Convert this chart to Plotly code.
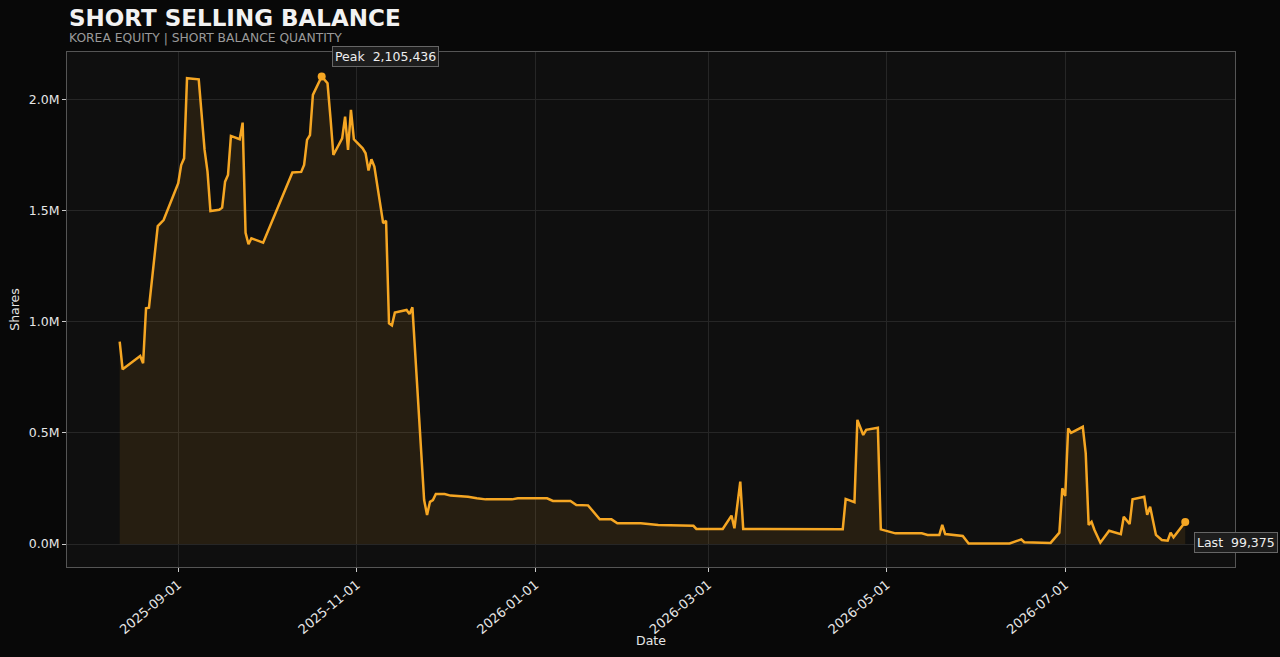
import plotly.graph_objects as go

# short balance (shares)
dates = [
    '2025-08-12', '2025-08-13', '2025-08-19', '2025-08-20', '2025-08-21', '2025-08-22',
    '2025-08-25', '2025-08-26', '2025-08-27', '2025-09-01', '2025-09-02', '2025-09-03',
    '2025-09-04', '2025-09-05', '2025-09-08', '2025-09-10', '2025-09-11', '2025-09-12',
    '2025-09-15', '2025-09-16', '2025-09-17', '2025-09-18', '2025-09-19', '2025-09-22',
    '2025-09-23', '2025-09-24', '2025-09-25', '2025-09-26', '2025-09-30', '2025-10-10',
    '2025-10-13', '2025-10-14', '2025-10-15', '2025-10-16', '2025-10-17', '2025-10-20',
    '2025-10-22', '2025-10-23', '2025-10-24', '2025-10-27', '2025-10-28', '2025-10-29',
    '2025-10-30', '2025-10-31', '2025-11-03', '2025-11-04', '2025-11-05', '2025-11-06',
    '2025-11-07', '2025-11-10', '2025-11-11', '2025-11-12', '2025-11-13', '2025-11-14',
    '2025-11-18', '2025-11-19', '2025-11-20', '2025-11-24', '2025-11-25', '2025-11-26',
    '2025-11-27', '2025-11-28', '2025-12-01', '2025-12-03', '2025-12-09', '2025-12-12',
    '2025-12-15', '2025-12-24', '2025-12-26', '2026-01-05', '2026-01-07', '2026-01-13',
    '2026-01-15', '2026-01-19', '2026-01-23', '2026-01-27', '2026-01-29', '2026-02-06',
    '2026-02-12', '2026-02-24', '2026-02-25', '2026-03-06', '2026-03-09', '2026-03-10',
    '2026-03-12', '2026-03-13', '2026-04-16', '2026-04-17', '2026-04-20', '2026-04-21',
    '2026-04-23', '2026-04-24', '2026-04-28', '2026-04-29', '2026-05-04', '2026-05-13',
    '2026-05-15', '2026-05-19', '2026-05-20', '2026-05-21', '2026-05-27', '2026-05-29',
    '2026-06-12', '2026-06-16', '2026-06-17', '2026-06-26', '2026-06-29', '2026-06-30',
    '2026-07-01', '2026-07-02', '2026-07-03', '2026-07-07', '2026-07-08', '2026-07-09',
    '2026-07-10', '2026-07-11', '2026-07-13', '2026-07-16', '2026-07-20', '2026-07-21',
    '2026-07-23', '2026-07-24', '2026-07-28', '2026-07-29', '2026-07-30', '2026-08-01',
    '2026-08-03', '2026-08-05', '2026-08-06', '2026-08-07', '2026-08-11',
]
balance = [
    911000, 787000, 847000, 814000, 1062000, 1064000,
    1432000, 1445000, 1459000, 1625000, 1707000, 1737000,
    2098000, 2097000, 2093000, 1775000, 1677000, 1500000,
    1505000, 1515000, 1632000, 1662000, 1838000, 1823000,
    1898000, 1402000, 1350000, 1377000, 1357000, 1673000,
    1676000, 1707000, 1820000, 1842000, 2023000, 2105436,
    2075000, 1920000, 1752000, 1827000, 1925000, 1775000,
    1955000, 1823000, 1782000, 1760000, 1682000, 1733000,
    1700000, 1445000, 1456000, 994000, 985000, 1042000,
    1054000, 1036000, 1066000, 198000, 131000, 190000,
    198000, 225000, 225000, 218000, 213000, 206000,
    201000, 201000, 206000, 206000, 194000, 194000,
    176000, 174000, 111000, 111000, 93000, 93000,
    86000, 82000, 68000, 68000, 128000, 71000,
    281000, 68000, 66000, 203000, 188000, 559000,
    491000, 514000, 524000, 66000, 48000, 48000,
    41000, 41000, 86000, 45000, 36000, 2000,
    2000, 21000, 8000, 5000, 51000, 251000,
    216000, 521000, 501000, 528000, 409000, 86000,
    100000, 63000, 6000, 60000, 44000, 123000,
    90000, 201000, 213000, 131000, 168000, 41000,
    18000, 15000, 51000, 30000, 99375,
]

y_ticks = [0, 500000, 1000000, 1500000, 2000000]
y_tick_labels = ['0.0M', '0.5M', '1.0M', '1.5M', '2.0M']
x_ticks = ['2025-09-01', '2025-11-01', '2026-01-01', '2026-03-01', '2026-05-01', '2026-07-01']

ORANGE = '#f5a623'
peak_i = balance.index(max(balance))

fig = go.Figure()
fig.add_trace(go.Scatter(x = dates, y = balance, mode = 'lines',
                         line = dict(color = ORANGE, width = 2.5),
                         fill = 'tozeroy', fillcolor = 'rgba(245,166,35,0.10)',
                         hoverinfo = 'skip'))
fig.add_trace(go.Scatter(x = [dates[peak_i], dates[-1]], y = [balance[peak_i], balance[-1]],
                         mode = 'markers', marker = dict(color = ORANGE, size = 8)))

label_style = dict(showarrow = False, xanchor = 'left', bgcolor = '#1d1d1d',
                   bordercolor = '#666666', borderwidth = 1, borderpad = 2,
                   font = dict(color = '#eeeeee', size = 12.5))
fig.add_annotation(x = dates[peak_i], y = balance[peak_i], text = f'Peak  {balance[peak_i]:,}',
                   xshift = 10, yshift = 20, **label_style)
fig.add_annotation(x = dates[-1], y = balance[-1], text = f'Last  {balance[-1]:,}',
                   xshift = 9, yshift = -21, **label_style)

fig.add_annotation(xref = 'paper', yref = 'paper', x = 0, y = 1.066, xanchor = 'left', yanchor = 'middle',
                   text = '<b>SHORT SELLING BALANCE</b>', showarrow = False,
                   font = dict(size = 23, color = '#f2f2f2'))
fig.add_annotation(xref = 'paper', yref = 'paper', x = 0, y = 1.027, xanchor = 'left', yanchor = 'middle',
                   text = 'KOREA EQUITY | SHORT BALANCE QUANTITY', showarrow = False,
                   font = dict(size = 12.3, color = '#9a9a9a'))
# x axis title as a plain label (plotly's title sits a few px too low here)
fig.add_annotation(xref = 'paper', yref = 'paper', x = 0.5, y = -0.142, xanchor = 'center', yanchor = 'middle',
                   text = 'Date', showarrow = False, font = dict(size = 12.5, color = '#e6e6e6'))

fig.update_layout(
  width = 1280, height = 657,
  margin = dict(l = 67, r = 45, t = 52, b = 90),
  paper_bgcolor = '#080808', plot_bgcolor = '#0f0f0f',
  font = dict(family = 'DejaVu Sans', color = '#e6e6e6', size = 12.5),
  showlegend = False,
)
fig.update_xaxes(range = ['2025-07-25', '2026-08-28'], tickvals = x_ticks, tickformat = '%Y-%m-%d',
                 tickangle = -40, tickfont = dict(size = 13), ticks = 'outside', ticklen = 4, tickcolor = '#cccccc',
                 showgrid = True, gridcolor = '#262626', gridwidth = 1, zeroline = False,
                 showline = True, linecolor = '#555555', mirror = True, automargin = False)
fig.update_yaxes(range = [-103600, 2216000], tickvals = y_ticks, ticktext = y_tick_labels,
                 ticks = 'outside', ticklen = 4, tickcolor = '#cccccc',
                 showgrid = True, gridcolor = '#262626', gridwidth = 1, zeroline = False,
                 showline = True, linecolor = '#555555', mirror = True, automargin = False,
                 title = dict(text = 'Shares', font = dict(size = 12.5), standoff = 6))

# drop the page margin so the figure sits flush like the reference
fig.write_html('out.html', config = {'displayModeBar': False},
               post_script = "document.body.style.margin='0';document.body.style.background='#080808';")
